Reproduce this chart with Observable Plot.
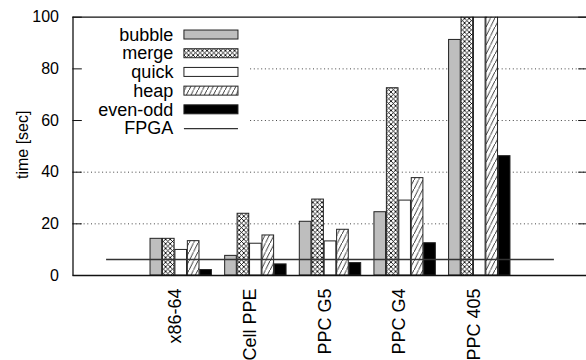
<!DOCTYPE html>
<html>
<head>
<meta charset="utf-8">
<script src="https://cdn.jsdelivr.net/npm/d3@7"></script>
<script src="https://cdn.jsdelivr.net/npm/@observablehq/plot@0.6"></script>
<style>
  html, body { margin: 0; padding: 0; background: white; }
</style>
</head>
<body>
<div id="chart"></div>
<script>
// ---- data ----
const categories = ["x86-64", "Cell PPE", "PPC G5", "PPC G4", "PPC 405"];
const seriesNames = ["bubble", "merge", "quick", "heap", "even-odd"];
const bubble  = [14.2,  7.6, 20.8, 24.5,  91.2];
const merge   = [14.2, 23.9, 29.4, 72.5, 130.0];
const quick   = [ 9.9, 12.3, 13.2, 29.0, 120.0];
const heap    = [13.3, 15.5, 17.7, 37.7, 110.0];
const evenOdd = [ 2.1,  4.3,  4.8, 12.5,  46.2];
const fpga = 6.2;
const yTicks = [0, 20, 40, 60, 80, 100];
const gridTicks = [20, 40, 60, 80];
const legendNames = ["bubble", "merge", "quick", "heap", "even-odd", "FPGA"];
const yTitle = "time [sec]";

// ---- styles ----
const seriesValues = [bubble, merge, quick, heap, evenOdd];
const fills = ["#bebebe", "url(#crosshatch)", "white", "url(#hatch)", "black"];
const xDom = [-1.45, 5.45];
const slot = 1 / 6, half = 0.078;
const legTop = 93.1, legStep = 7.24, legHalf = 1.74;
const legRowY = i => legTop - i * legStep;

const marks = [
  Plot.ruleY(gridTicks, {x1: xDom[0], x2: xDom[1], stroke: "#444", strokeWidth: 1, strokeDasharray: "1,2.7"}),
  Plot.rect([0], {x1: xDom[0], x2: 0.92, y1: 53, y2: 100, fill: "white"})
];
seriesValues.forEach((vals, j) => {
  marks.push(Plot.rect(vals, {
    x1: (d, i) => i + (j - 2) * slot - half,
    x2: (d, i) => i + (j - 2) * slot + half,
    y1: 0, y2: d => d,
    fill: fills[j], stroke: "#222", strokeWidth: 1, clip: true
  }));
});
marks.push(
  Plot.ruleY([fpga], {x1: -1, x2: 5, stroke: "#333", strokeWidth: 1.3}),
  Plot.ruleY(yTicks, {x1: xDom[0], x2: xDom[0] + 0.125, stroke: "#111", strokeWidth: 1}),
  Plot.ruleY(yTicks, {x1: xDom[1] - 0.125, x2: xDom[1], stroke: "#111", strokeWidth: 1}),
  Plot.ruleY([0, 100], {x1: xDom[0], x2: xDom[1], stroke: "#111", strokeWidth: 1.3}),
  Plot.ruleX([xDom[0]], {y1: 0, y2: 100, stroke: "#111", strokeWidth: 1.3}),
  Plot.axisY(yTicks, {tickSize: 0, tickPadding: 14, label: null, fontSize: 16}),
  Plot.text(categories, {x: (d, i) => i, frameAnchor: "bottom", dy: 13, rotate: -90, textAnchor: "end", fontSize: 18, fill: "black"}),
  Plot.text([yTitle], {x: xDom[0], y: 50.6, dx: -50.5, rotate: -90, fontSize: 16, fill: "black"}),
  Plot.text(legendNames, {x: -0.105, y: (d, i) => legRowY(i), textAnchor: "end", fontSize: 18, fill: "black"})
);
seriesNames.forEach((name, j) => {
  marks.push(Plot.rect([name], {
    x1: 0.043, x2: 0.767,
    y1: legRowY(j) - legHalf, y2: legRowY(j) + legHalf,
    fill: fills[j], stroke: "#222", strokeWidth: 1
  }));
});
marks.push(Plot.ruleY([legendNames[5]], {x1: 0.043, x2: 0.767, y: () => legRowY(5), stroke: "#333", strokeWidth: 1.3}));

const chart = Plot.plot({
  width: 586,
  height: 360,
  marginLeft: 72.5,
  marginRight: 0,
  marginTop: 16.7,
  marginBottom: 85,
  style: {fontFamily: "'Liberation Sans', Arial, Helvetica, sans-serif", fontSize: "16px", background: "white", color: "black"},
  x: {domain: xDom, range: [72.5, 587.5], axis: null},
  y: {domain: [0, 100], range: [275, 16.7], axis: null},
  marks
});

// fill patterns
const svg = d3.select(chart);
const defs = svg.insert("defs", ":first-child");
const cs = 4.6;
const cross = defs.append("pattern").attr("id", "crosshatch").attr("patternUnits", "userSpaceOnUse")
  .attr("width", cs).attr("height", cs);
cross.append("rect").attr("width", cs).attr("height", cs).attr("fill", "white");
cross.append("path").attr("d", `M-0.5,-0.5L${cs + 0.5},${cs + 0.5}M${cs + 0.5},-0.5L-0.5,${cs + 0.5}`)
  .attr("stroke", "black").attr("stroke-width", 0.85);
const hatch = defs.append("pattern").attr("id", "hatch").attr("patternUnits", "userSpaceOnUse")
  .attr("width", 4.5).attr("height", 9);
hatch.append("rect").attr("width", 4.5).attr("height", 9).attr("fill", "white");
hatch.append("path").attr("d", "M-0.5,10L5,-1M-1,1L0.5,-2M4,11L5.5,8").attr("stroke", "black").attr("stroke-width", 0.8);

document.getElementById("chart").appendChild(chart);
</script>
</body>
</html>
